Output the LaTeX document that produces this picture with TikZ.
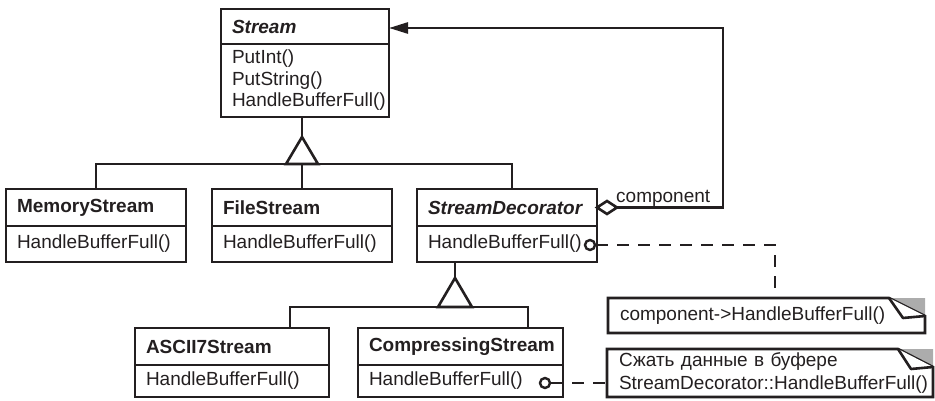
\documentclass[tikz,border=0pt]{standalone}
\usepackage{fontspec}
\setmainfont{Liberation Sans}
\usetikzlibrary{arrows.meta}
\newcommand\fsz{\fontsize{19}{21.5}\selectfont}
\definecolor{foldgray}{RGB}{172,172,172}
\definecolor{ink}{RGB}{35,31,32}
\tikzset{
  ln/.style={line width=2.6pt, draw=ink},
  box/.style={draw=ink, line width=2.6pt, outer sep=0pt, inner xsep=11pt, inner ysep=0pt,
              anchor=north west, align=left, font=\fsz, text=ink},
  hdr/.style={box, minimum height=37pt, text width=#1, font=\fsz\bfseries},
  ahdr/.style={box, minimum height=37pt, text width=#1, font=\fsz\bfseries\itshape},
  body/.style={box, minimum height=36pt, text width=#1},
  note/.style={box, draw=none, inner xsep=12pt, font=\fontsize{19}{23}\selectfont},
  circ/.style={circle, draw=ink, line width=2.4pt, fill=white, minimum size=10pt, inner sep=0pt},
  dsh/.style={ln, dash pattern=on 12pt off 9pt},
  tri/.style={ln, fill=white, line join=miter},
}
\begin{document}
\begin{tikzpicture}[x=1pt,y=-1pt]
\useasboundingbox (0,0) rectangle (935,401);

% Stream
\node[ahdr=146pt, minimum height=35pt] (st) at (221,9) {Stream};
\node[body=146pt, minimum height=73pt, anchor=north west] (stb) at (st.south west) {PutInt()\\PutString()\\HandleBufferFull()};

% second row
\node[hdr=158pt] (ms) at (6,189) {MemoryStream};
\node[body=158pt] (msb) at (ms.south west) {HandleBufferFull()};
\node[hdr=158pt] (fs) at (212,189) {FileStream};
\node[body=158pt] (fsb) at (fs.south west) {HandleBufferFull()};
\node[ahdr=158pt] (sd) at (417,189) {StreamDecorator};
\node[body=158pt] (sdb) at (sd.south west) {HandleBufferFull()};

% third row
\node[hdr=172pt] (as) at (135,328) {ASCII7Stream};
\node[body=172pt, minimum height=32pt] (asb) at (as.south west) {HandleBufferFull()};
\node[hdr=183pt] (cs) at (358,328) {CompressingStream};
\node[body=183pt, minimum height=32pt] (csb) at (cs.south west) {HandleBufferFull()};

% notes
\node[note, minimum height=35pt, text width=293pt] (n1) at (608,298) {component->HandleBufferFull()};
\node[note, minimum height=48pt, text width=302pt] (n2) at (607,349) {Сжать данные в буфере\\StreamDecorator::HandleBufferFull()};

\foreach \n/\a/\b in {n1/36/18, n2/35/18}{
  \fill[foldgray] ([xshift=-\a pt]\n.north east) -- (\n.north east) -- ([yshift=-\b pt]\n.north east) -- cycle;
  \draw[ln] (\n.north west) -- ([xshift=-\a pt]\n.north east) -- ([yshift=-\b pt]\n.north east)
            -- (\n.south east) -- (\n.south west) -- cycle;
  \draw[ln, fill=white, line join=round] ([xshift=-\a pt]\n.north east) -- ([xshift=-22pt,yshift=-20pt]\n.north east) -- ([yshift=-\b pt]\n.north east);
}

% inheritance 1
\coordinate (t1) at (302,137);
\coordinate (b1) at (302,164);
\draw[ln] (t1 |- stb.south) -- (t1);
\draw[ln] (ms.north) |- (b1);
\draw[ln] (b1) -| ([xshift=5pt]sd.north);
\draw[ln] (fs.north) -- (b1);
\draw[tri] (t1) -- ++(16,27) -- ++(-32,0) -- cycle;

% inheritance 2
\coordinate (t2) at (455,278);
\coordinate (b2) at (455,307);
\draw[ln] (t2 |- sdb.south) -- (t2);
\draw[ln] ([xshift=58pt]as.north) |- (b2) -| ([xshift=67.5pt]cs.north);
\draw[tri] (t2) -- ++(17,29) -- ++(-34,0) -- cycle;

% aggregation
\coordinate (dm) at ([xshift=20pt]sd.east);
\draw[ln, -{Triangle[length=19pt,width=11pt]}]
  (dm) -- ++(106,0) |- ([yshift=-1.5pt]st.east);
\draw[ln, fill=white, line join=miter] (sd.east) -- ++(10,-6.5) -- (dm) -- ++(-10,6.5) -- cycle;
\node[font=\fsz, text=ink, anchor=base west, inner sep=0pt] (lbl) at (616,203) {component};

% note links
\node[circ] (c1) at (590,245) {};
\coordinate (d1) at (775,245);
\draw[dsh] (c1.east) -- (d1) -- (d1 |- n1.north);
\node[circ] (c2) at (545,383) {};
\draw[dsh] (c2.east) -- (n2.west |- c2);
\end{tikzpicture}
\end{document}
